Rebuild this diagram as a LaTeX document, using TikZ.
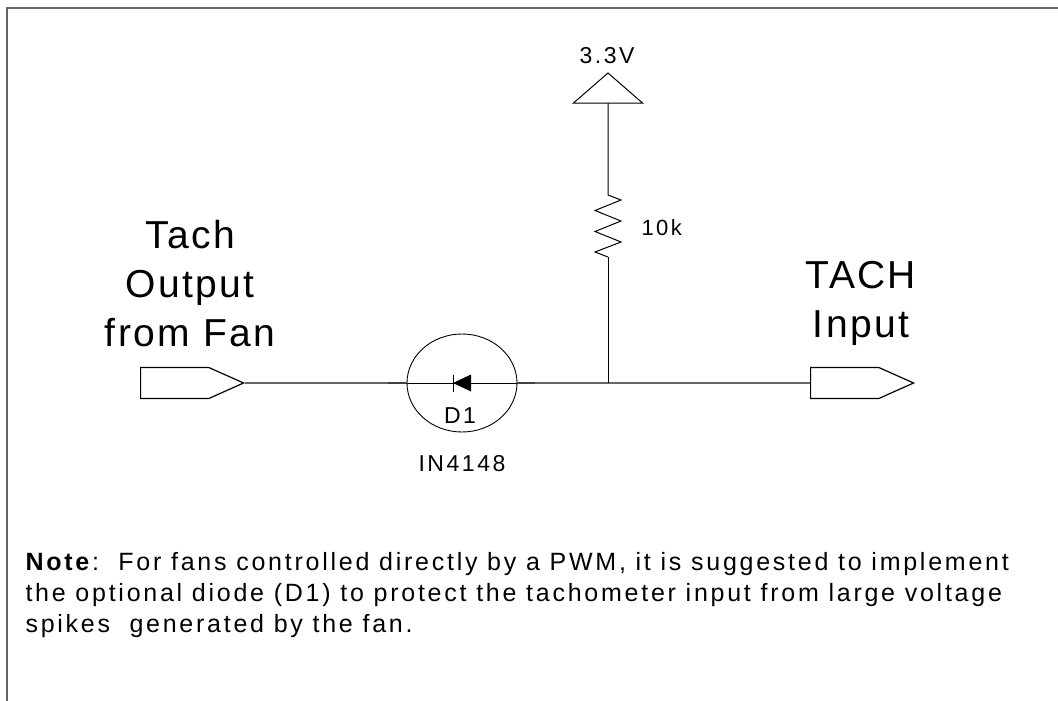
\documentclass[tikz,border=0pt]{standalone}
\usepackage{fontspec}
\setmainfont{Liberation Sans}
\newfontfamily\labelfont{Liberation Sans}[LetterSpace=6]
\newfontfamily\partfont{Liberation Sans}[LetterSpace=11]
\usetikzlibrary{shapes.geometric,shapes.symbols}

\begin{document}
\begin{tikzpicture}[x=1pt,y=-1pt]
	\tikzset{port/.style = {shape=signal,signal to=east,signal pointer angle=48,draw,line width=1.2pt,minimum width=103pt,minimum height=31pt,inner sep=0pt,anchor=west}}
	\tikzset{wire/.style = {draw,black!60,line width=1.5pt}}
	\tikzset{pin/.style = {draw,black!75,line width=2.2pt}}
	\tikzset{bigtext/.style = {align=center,font=\labelfont\fontsize{39}{49}\selectfont}}
	\tikzset{parttext/.style = {font=\partfont\fontsize{23}{27}\selectfont}}
	\useasboundingbox (0,0) rectangle (1058,701);
	\draw[black!60,line width=2pt] (1058,8) -- (7,8) -- (7,701);
	% supply and pull-up
	\coordinate (vcc) at (608,103);
	\draw[line width=1pt] (vcc) -- ++(-34.5,0) -- ++(34.5,-30) -- ++(34.5,30) -- cycle;
	\node[parttext,anchor=base] (vcclabel) at (607,64) {3.3V};
	\coordinate (rtop) at (608,195);
	\coordinate (rbot) at (608,257);
	\draw[line width=1pt] (vcc) -- (rtop) -- ++(13,5) -- ++(-26,10.5) -- ++(26,10.5) -- ++(-26,10.5) -- ++(26,10.5) -- ++(-26,10) -- (rbot);
	\node[parttext,anchor=base west,font=\partfont\fontsize{22}{27}\selectfont] (rlabel) at (638,235) {10k};
	% ports
	\node[port] (fanport) at (140,383) {};
	\node[port] (tachport) at (810,383) {};
	\node[bigtext,anchor=base] (fanlabel) at (190,346) {Tach\\Output\\from Fan};
	\node[bigtext,anchor=base] (tachlabel) at (861,337) {TACH\\Input};
	% diode
	\node[shape=ellipse,draw,line width=0.9pt,minimum width=110pt,minimum height=98pt] (d1) at (462,383) {};
	\fill ([xshift=-9pt]d1.center) -- ++(18,-8.5) -- ++(0,17) -- cycle;
	\draw[line width=1pt] ([xshift=-9pt,yshift=8.5pt]d1.center) -- ++(0,17);
	\node[parttext,anchor=base] (d1name) at (460,423) {D1};
	\node[parttext,anchor=base] (d1part) at (462,471) {IN4148};
	% wiring
	\coordinate (pinl) at (388,383);
	\coordinate (pinr) at (535,383);
	\coordinate (j) at (608,383);
	\path[wire] (fanport.east) -- (pinl);
	\path[pin] (pinl) -- (d1.west);
	\draw[line width=1pt] (d1.west) -- (d1.east);
	\path[pin] (d1.east) -- (pinr);
	\path[wire] (pinr) -- (tachport.west);
	\draw[line width=1pt] (rbot) -- (j);
	% note
	\node[anchor=base west,align=left,font=\partfont\fontsize{25}{31}\selectfont] (note) at (22,632) {\textbf{Note}:\ \ For fans controlled directly by a PWM, it is suggested to implement\\the optional diode (D1) to protect the tachometer input from large voltage\\spikes\ \ generated by the fan.};
\end{tikzpicture}
\end{document}
